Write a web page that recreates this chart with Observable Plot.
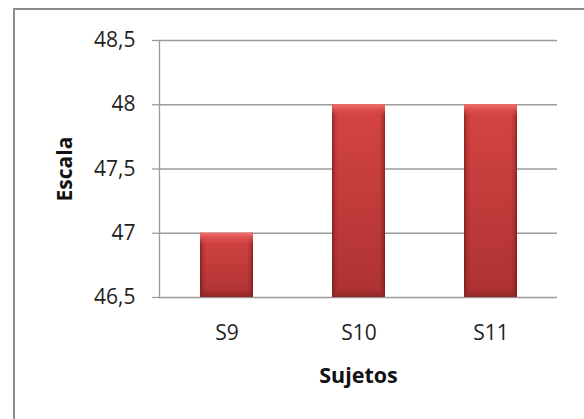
<!DOCTYPE html>
<html>
<head>
<meta charset="utf-8">
<script src="https://cdn.jsdelivr.net/npm/d3@7"></script>
<script src="https://cdn.jsdelivr.net/npm/@observablehq/plot@0.6"></script>
<style>
  html, body { margin: 0; padding: 0; background: #fff; overflow: hidden; }
  #wrap { position: relative; width: 584px; height: 419px; overflow: hidden; }
  #border { position: absolute; left: 13px; top: 8px; width: 620px; height: 460px;
            border: 2px solid #8c8c8c; box-sizing: border-box; pointer-events: none; }
  #chart svg { display: block; }
</style>
</head>
<body>
<div id="wrap">
  <div id="chart"></div>
  <div id="border"></div>
</div>
<script>
// Subjects and their scale scores
const sujetos = ["S9", "S10", "S11"];
const escala = [47, 48, 48];
const yTicks = [46.5, 47, 47.5, 48, 48.5];
const yMin = 46.5;
const yMax = 48.5;

const data = sujetos.map((s, i) => ({sujeto: s, valor: escala[i]}));
const comma = d => String(d).replace(".", ",");

const font = "'Open Sans', 'Liberation Sans', sans-serif";
const grid = "#9a9a9a";

const plot = Plot.plot({
  width: 584,
  height: 419,
  marginLeft: 159,
  marginRight: 27,
  marginTop: 40,
  marginBottom: 122,
  style: {fontFamily: font, fontSize: "21px", color: "#1f1f1f", background: "transparent"},
  x: {domain: sujetos, paddingInner: 0.6, paddingOuter: 0.3, label: null},
  y: {domain: [yMin, yMax], label: null},
  marks: [
    // horizontal gridlines
    Plot.ruleY(yTicks, {stroke: grid, strokeWidth: 1.3}),
    // vertical axis line
    Plot.frame({anchor: "left", stroke: grid, strokeWidth: 1.3}),
    Plot.axisY({ticks: yTicks, tickFormat: comma, tickSize: 7, tickPadding: 17, label: null}),
    Plot.axisX({tickSize: 0, tickPadding: 28, label: null}),
    // bar body with soft shadow
    Plot.barY(data, {x: "sujeto", y1: yMin, y2: "valor", fill: "url(#barBody)",
      style: {filter: "drop-shadow(2px 2px 2px rgba(0,0,0,0.35))"}}),
    // darker side edges
    Plot.barY(data, {x: "sujeto", y1: yMin, y2: "valor", fill: "url(#barSides)"}),
    // top bevel highlight
    Plot.barY(data, {x: "sujeto", y1: "valor", y2: "valor", insetBottom: -11, fill: "url(#barTop)"}),
    // bottom bevel
    Plot.barY(data, {x: "sujeto", y1: yMin, y2: yMin, insetTop: -8, fill: "url(#barBottom)"}),
    // axis titles
    Plot.text(["Sujetos"], {frameAnchor: "bottom", dy: 79, lineAnchor: "middle",
      fontWeight: "bold", fontSize: 21.5, fill: "#111"}),
    Plot.text(["Escala"], {frameAnchor: "left", dx: -94, rotate: -90, lineAnchor: "middle",
      textAnchor: "middle", fontWeight: "bold", fontSize: 21, fill: "#111"})
  ]
});

// gradients used by the bars
const ns = "http://www.w3.org/2000/svg";
const defs = document.createElementNS(ns, "defs");
defs.innerHTML = `
  <linearGradient id="barBody" x1="0" y1="0" x2="0" y2="1">
    <stop offset="0" stop-color="#d64444"/>
    <stop offset="0.5" stop-color="#c23b3b"/>
    <stop offset="1" stop-color="#ad3232"/>
  </linearGradient>
  <linearGradient id="barSides" x1="0" y1="0" x2="1" y2="0">
    <stop offset="0" stop-color="#5a0d0d" stop-opacity="0.6"/>
    <stop offset="0.05" stop-color="#5a0d0d" stop-opacity="0.2"/>
    <stop offset="0.12" stop-color="#5a0d0d" stop-opacity="0"/>
    <stop offset="0.88" stop-color="#5a0d0d" stop-opacity="0"/>
    <stop offset="0.95" stop-color="#5a0d0d" stop-opacity="0.2"/>
    <stop offset="1" stop-color="#5a0d0d" stop-opacity="0.6"/>
  </linearGradient>
  <linearGradient id="barTop" x1="0" y1="0" x2="0" y2="1">
    <stop offset="0" stop-color="#f27070"/>
    <stop offset="0.3" stop-color="#e45858"/>
    <stop offset="1" stop-color="#d44545" stop-opacity="0.2"/>
  </linearGradient>
  <linearGradient id="barBottom" x1="0" y1="0" x2="0" y2="1">
    <stop offset="0" stop-color="#9c2b2b" stop-opacity="0.1"/>
    <stop offset="1" stop-color="#8a2424" stop-opacity="0.85"/>
  </linearGradient>`;
plot.insertBefore(defs, plot.firstChild);

// gray tick marks on the value axis
d3.select(plot).selectAll('[aria-label="y-axis tick"]').attr("stroke", grid).attr("stroke-width", 1.3);

document.getElementById("chart").appendChild(plot);
</script>
</body>
</html>
